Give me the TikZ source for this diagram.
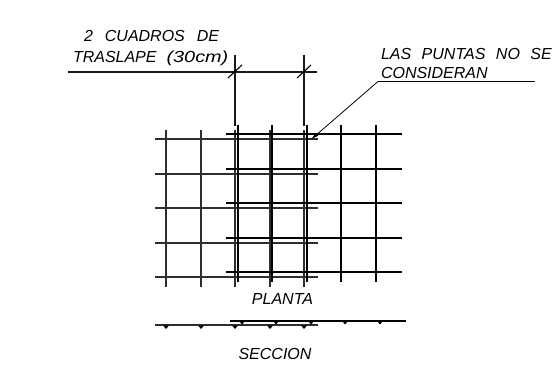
\documentclass[tikz,border=0pt]{standalone}
\usepackage{fontspec}
\setmainfont{Liberation Sans}
\usetikzlibrary{arrows.meta}
\newcommand{\wgap}{\hspace{12pt}}
\newcommand{\pgap}{\hspace{10.5pt}}
\tikzset{
    label text/.style={inner sep=0pt, outer sep=0pt, anchor=base west, font=\fontsize{16}{18}\selectfont\itshape},
    thin bar/.style={line width=1.6pt, black!82},
    thick bar/.style={line width=1.6pt, black},
    dim line/.style={line width=1.6pt, black!90},
    bar dot/.style={fill=black, draw=none}
}
\begin{document}
\begin{tikzpicture}[x=1pt, y=-1pt]
    \useasboundingbox (0,0) rectangle (554,371);
    \foreach \y in {139,174,208,243,277}
        \draw[thin bar] (154.5,\y) -- (318,\y);
    \foreach \x in {166,201,235,270,304}
        \draw[thin bar] (\x,130) -- (\x,287);
    \foreach \y in {134,169,203,238,272}
        \draw[thick bar] (226,\y) -- (402,\y);
    \foreach \x in {238,272,307,341,376}
        \draw[thick bar] (\x,125) -- (\x,282);
    \coordinate (dimleft) at (68,72);
    \coordinate (dimright) at (317,72);
    \coordinate (extatop) at (235,55);
    \coordinate (extabot) at (235,126);
    \coordinate (extbtop) at (304,55);
    \coordinate (extbbot) at (304,126);
    \draw[dim line] (dimleft) -- (dimright);
    \draw[dim line] (extatop) -- (extabot);
    \draw[dim line] (extbtop) -- (extbbot);
    \draw[line width=1.1pt] (228,78) -- (242,65);
    \draw[line width=1.1pt] (297,78) -- (311,65);
    \node[label text] (cuadros) at (84,41.5) {2\wgap CUADROS\wgap DE};
    \node[label text] (traslape) at (73,62.5) {TRASLAPE\hspace{10pt}\scalebox{1.24}[1]{(30cm)}};
    \node[label text] (puntas) at (381,59.5) {LAS\pgap PUNTAS\pgap NO\pgap SE};
    \node[label text] (consideran) at (381,79) {CONSIDERAN};
    \coordinate (leadend) at (535,81.5);
    \coordinate (leadknee) at (378,81.5);
    \coordinate (leadtip) at (311,139.5);
    \draw[line width=0.8pt] (leadend) -- (leadknee);
    \draw[line width=0.8pt, -{Latex[length=8pt,width=4pt]}] (leadknee) -- (leadtip);
    \node[label text, anchor=base] (planta) at (282.5,305) {PLANTA};
    \node[label text, anchor=base] (seccion) at (275,359) {SECCION};
    \draw[thin bar] (154.5,325) -- (318,325);
    \draw[thick bar] (230,321) -- (406,321);
    \foreach \x in {166,201,235,270,304}
        \fill[bar dot] (\x-3,325.5) -- (\x+3,325.5) -- (\x,329) -- cycle;
    \foreach \x in {242,276,311,345,380}
        \fill[bar dot] (\x-3,321) -- (\x+3,321) -- (\x,324.5) -- cycle;
\end{tikzpicture}
\end{document}
